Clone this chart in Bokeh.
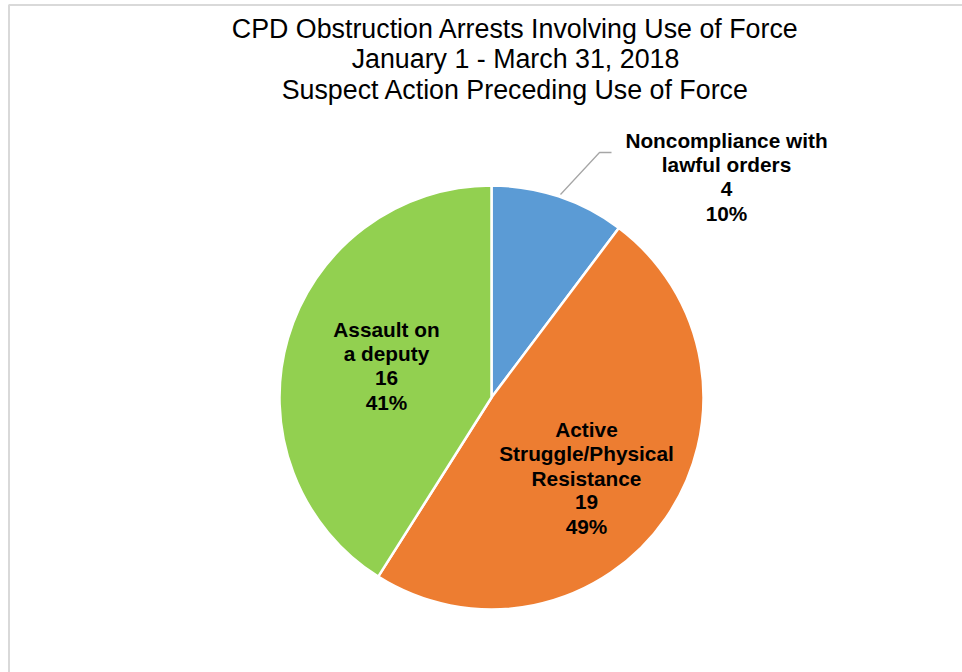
import math
import numpy as np
from bokeh.plotting import figure
from bokeh.models import ColumnDataSource
from bokeh.core.properties import value
from bokeh.embed import file_html
from bokeh.resources import INLINE

# ---- data ----
categories = ["Noncompliance with\nlawful orders", "Active\nStruggle/Physical\nResistance", "Assault on\na deputy"]
counts = [4, 19, 16]
colors = ["#5B9BD5", "#ED7D31", "#92D050"]
title_lines = ["CPD Obstruction Arrests Involving Use of Force",
               "January 1 - March 31, 2018",
               "Suspect Action Preceding Use of Force"]

W, H = 962, 672
def Y(py):
    return H - py

p = figure(width=W, height=H, x_range=(0, W), y_range=(0, H),
           output_backend="svg", toolbar_location=None, min_border=0)
p.axis.visible = False
p.grid.visible = False
p.outline_line_color = None
p.background_fill_color = "white"
p.border_fill_color = "white"

# chart frame (top and left edges visible)
p.quad(left=[8.5], right=[W + 20], top=[Y(4.5)], bottom=[-20],
       fill_color=None, line_color="#D9D9D9", line_width=2)

# pie
cx, cy, r = 491, Y(397), 212
total = sum(counts)
cum = np.concatenate([[0], np.cumsum(counts)])
starts = [math.pi / 2 - 2 * math.pi * cum[i] / total for i in range(len(counts))]
ends = [math.pi / 2 - 2 * math.pi * cum[i + 1] / total for i in range(len(counts))]
src = ColumnDataSource(dict(start=starts, end=ends, color=colors))
p.wedge(x=cx, y=cy, radius=r, start_angle="start", end_angle="end",
        direction="clock", fill_color="color", line_color="white",
        line_width=2.5, source=src)

# leader line for the small slice
p.line(x=[560, 599, 611], y=[Y(194), Y(152), Y(152)], line_color="#A6A6A6", line_width=1.3)

# labels
label_pos = [(726, 140), (586, 429), (386, 329)]  # top line centre y (pixels)
font = value("Liberation Sans")
for (lx, ly), cat, n in zip(label_pos, categories, counts):
    pct = round(100 * n / total)
    lines = cat.split("\n") + [str(n), f"{pct}%"]
    for k, t in enumerate(lines):
        p.text(x=[lx], y=[Y(ly + k * 24.3)], text=[t], text_font=font,
               text_font_size="20.8px", text_font_style="bold",
               text_align="center", text_baseline="middle", text_color="#000000")

# title
for k, t in enumerate(title_lines):
    p.text(x=[515], y=[Y(28 + k * 30.5)], text=[t], text_font=font,
           text_font_size="26.8px", text_align="center", text_baseline="middle",
           text_color="#000000")

open("out.html", "w").write(file_html(p, INLINE))
